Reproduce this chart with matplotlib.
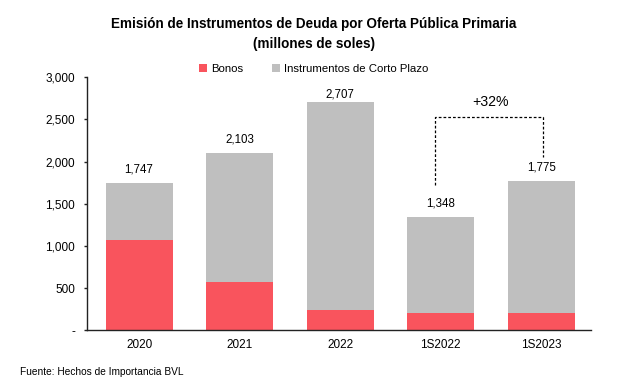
import matplotlib
matplotlib.use("Agg")
import matplotlib.pyplot as plt
from matplotlib.ticker import FuncFormatter

plt.rcParams['font.family'] = ['Liberation Sans', 'DejaVu Sans']

categories = ["2020", "2021", "2022", "1S2022", "1S2023"]
totals = [1747, 2103, 2707, 1348, 1775]
bonos = [1068, 578, 241, 212, 210]
corto_plazo = [t - b for t, b in zip(totals, bonos)]
total_labels = ["1,747", "2,103", "2,707", "1,348", "1,775"]
growth_label = "+32%"

RED = "#F9545D"
GRAY = "#BFBFBF"

fig = plt.figure(figsize=(6.2, 3.92), dpi=100)
ax = fig.add_axes([0.140, 0.157, 0.814, 0.646])

x = list(range(len(categories)))
ax.bar(x, bonos, width=0.667, color=RED, label="Bonos", zorder=2)
ax.bar(x, corto_plazo, width=0.667, bottom=bonos, color=GRAY,
       label="Instrumentos de Corto Plazo", zorder=2)

ax.set_xlim(-0.52, 4.5)
ax.set_ylim(0, 3000)
ax.set_yticks([0, 500, 1000, 1500, 2000, 2500, 3000])
ax.yaxis.set_major_formatter(FuncFormatter(lambda v, p: "-" if v == 0 else f"{int(v):,}"))
ax.set_xticks(x)
ax.set_xticklabels(categories)
ax.tick_params(axis='y', length=2.5, width=1, labelsize=8.5, pad=6, colors='#222222')
ax.tick_params(axis='x', length=0, labelsize=8.5, pad=6, colors='#222222')
for lbl in ax.get_yticklabels() + ax.get_xticklabels():
    lbl.set_color('#000000')

for s in ['top', 'right']:
    ax.spines[s].set_visible(False)
for s in ['left', 'bottom']:
    ax.spines[s].set_color('#222222')
    ax.spines[s].set_linewidth(1.0)

# total labels
for xi, t, lab in zip(x, totals, total_labels):
    y = min(t + 155, 2800)
    ax.text(xi, y, lab, ha='center', va='center', fontsize=8.3, color='#000000')

# growth bracket
bx0, bx1 = x[3] - 0.055, x[4] + 0.02
ax.plot([bx0, bx0, bx1, bx1], [totals[3] + 375, 2533, 2533, totals[4] + 285],
        ls=(0, (2.2, 1.6)), color='#000000', lw=0.9, zorder=3)
ax.text(3.5, 2711, growth_label, ha='center', va='center', fontsize=10.2, color='#000000')

# legend
leg = fig.legend(loc='center', bbox_to_anchor=(0.506, 0.824), ncol=2, frameon=False,
                 fontsize=8.2, handlelength=0.65, handleheight=0.65, handletextpad=0.35,
                 columnspacing=2.6)

fig.text(0.506, 0.938, "Emisión de Instrumentos de Deuda por Oferta Pública Primaria",
         ha='center', va='center', fontsize=9.75, fontweight='bold')
fig.text(0.506, 0.889, "(millones de soles)", ha='center', va='center',
         fontsize=9.75, fontweight='bold')

fig.text(0.033, 0.052, "Fuente: Hechos de Importancia BVL", ha='left', va='center',
         fontsize=7.3)

fig.savefig("out.png", dpi=100)
